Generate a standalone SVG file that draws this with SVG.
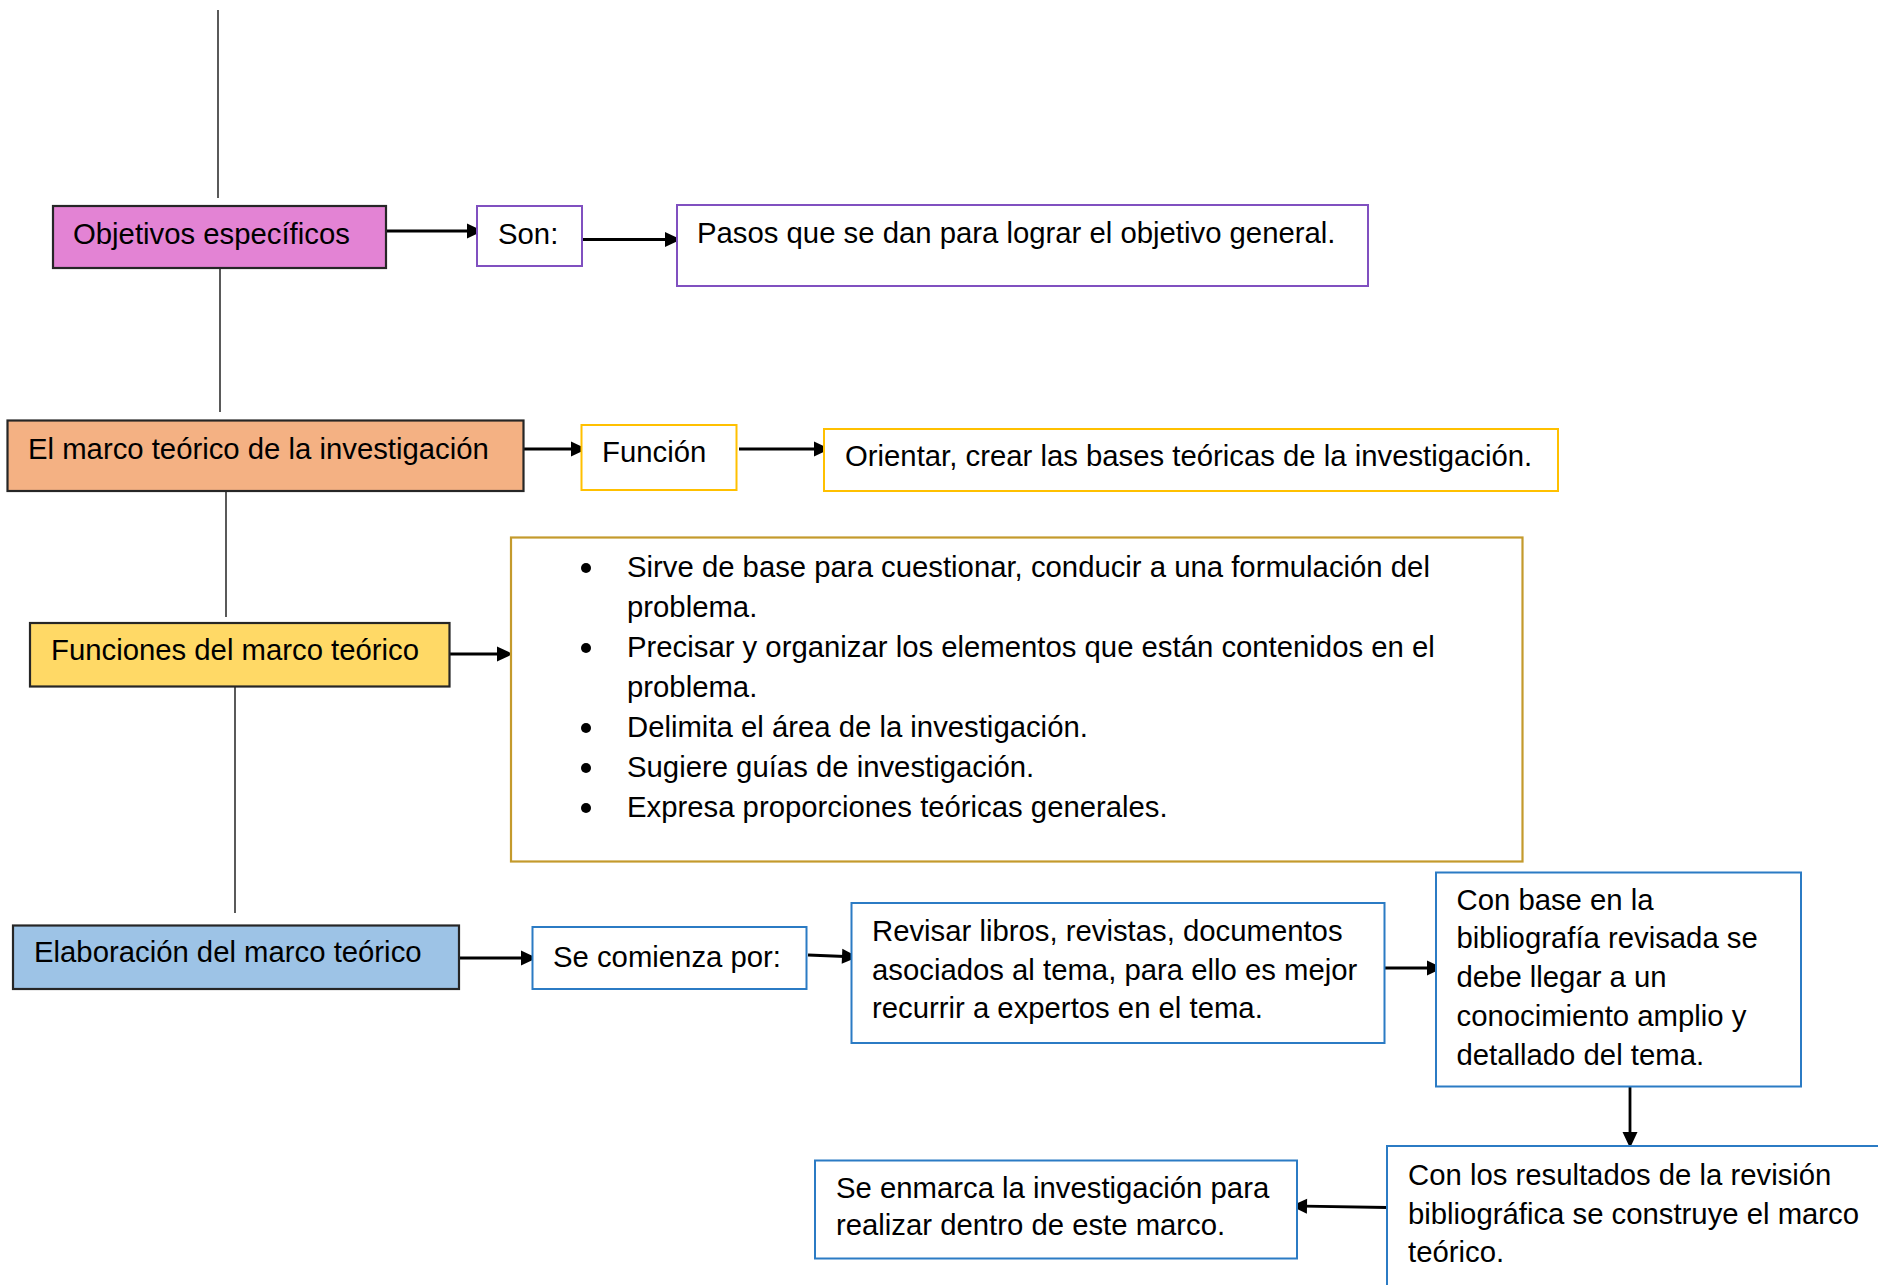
<svg xmlns="http://www.w3.org/2000/svg" xmlns:xlink="http://www.w3.org/1999/xlink" width="1878" height="1285" viewBox="0 0 1878 1285">
<defs>
<style>
text{font-family:"Liberation Sans",Arial,sans-serif;font-size:29.3px;fill:#000}
.dark{stroke:#262626;stroke-width:2.2}
.purple{fill:#fff;stroke:#8050C0;stroke-width:2}
.gold{fill:#fff;stroke:#FFC000;stroke-width:2}
.ochre{fill:#fff;stroke:#C49A2C;stroke-width:2.2}
.blue{fill:#fff;stroke:#2B7BC4;stroke-width:2}
.arrow{stroke:#000;stroke-width:2.8;fill:none}
.plain{stroke:#000;stroke-width:1.3;fill:none}
</style>
<path id="head" d="M0,0 L-16,-7.5 L-16,7.5 z" fill="#000"/>
</defs>
<rect width="1878" height="1285" fill="#fff"/>

<g id="connectors">
<line class="plain" x1="218" y1="10" x2="218" y2="198"/>
<line class="plain" x1="220" y1="268" x2="220" y2="412"/>
<line class="plain" x1="226" y1="491" x2="226" y2="617"/>
<line class="plain" x1="235" y1="687" x2="235" y2="913"/>
<line class="arrow" x1="386" y1="231" x2="470" y2="231"/>
<use href="#head" xlink:href="#head" transform="translate(483,231)"/>
<line class="arrow" x1="582" y1="239.5" x2="668" y2="239.5"/>
<use href="#head" xlink:href="#head" transform="translate(681,239.5)"/>
<line class="arrow" x1="523" y1="449" x2="574" y2="449"/>
<use href="#head" xlink:href="#head" transform="translate(587,449)"/>
<line class="arrow" x1="739" y1="449" x2="817" y2="449"/>
<use href="#head" xlink:href="#head" transform="translate(830,449)"/>
<line class="arrow" x1="449" y1="654" x2="500" y2="654"/>
<use href="#head" xlink:href="#head" transform="translate(513,654)"/>
<line class="arrow" x1="459" y1="958" x2="524" y2="958"/>
<use href="#head" xlink:href="#head" transform="translate(537,958)"/>
<line class="arrow" x1="808" y1="955" x2="845" y2="956.5"/>
<use href="#head" xlink:href="#head" transform="translate(858,957) rotate(2.3)"/>
<line class="arrow" x1="1384" y1="968" x2="1430" y2="968"/>
<use href="#head" xlink:href="#head" transform="translate(1443,968)"/>
<line class="arrow" x1="1630" y1="1087" x2="1630" y2="1135"/>
<use href="#head" xlink:href="#head" transform="translate(1630,1148) rotate(90)"/>
<line class="arrow" x1="1387" y1="1207.5" x2="1304" y2="1206.2"/>
<use href="#head" xlink:href="#head" transform="translate(1291,1206) rotate(180.9)"/>
</g>

<g id="objetivos">
<rect class="dark" x="53" y="206" width="333" height="62" fill="#E383D4"/>
<text x="73" y="244">Objetivos específicos</text>
</g>
<g id="son">
<rect class="purple" x="477" y="206" width="105" height="60"/>
<text x="498" y="244">Son:</text>
</g>
<g id="pasos">
<rect class="purple" x="677" y="205" width="691" height="81"/>
<text x="697" y="243">Pasos que se dan para lograr el objetivo general.</text>
</g>

<g id="marco">
<rect class="dark" x="7.5" y="420.5" width="516" height="70.5" fill="#F4B183"/>
<text x="28" y="459">El marco teórico de la investigación</text>
</g>
<g id="funcion">
<rect class="gold" x="581.5" y="425" width="155" height="65"/>
<text x="602" y="462">Función</text>
</g>
<g id="orientar">
<rect class="gold" x="824" y="429" width="734" height="62"/>
<text x="845" y="466">Orientar, crear las bases teóricas de la investigación.</text>
</g>

<g id="funciones">
<rect class="dark" x="30" y="623" width="419.5" height="63.5" fill="#FFD966"/>
<text x="51" y="660">Funciones del marco teórico</text>
</g>
<g id="lista">
<rect class="ochre" x="511" y="537.5" width="1011.5" height="324"/>
<circle cx="586" cy="568" r="5"/>
<circle cx="586" cy="648" r="5"/>
<circle cx="586" cy="728" r="5"/>
<circle cx="586" cy="768" r="5"/>
<circle cx="586" cy="808" r="5"/>
<text x="627" y="577">Sirve de base para cuestionar, conducir a una formulación del</text>
<text x="627" y="617">problema.</text>
<text x="627" y="657">Precisar y organizar los elementos que están contenidos en el</text>
<text x="627" y="697">problema.</text>
<text x="627" y="737">Delimita el área de la investigación.</text>
<text x="627" y="777">Sugiere guías de investigación.</text>
<text x="627" y="817">Expresa proporciones teóricas generales.</text>
</g>

<g id="elaboracion">
<rect class="dark" x="13" y="925.5" width="446" height="63.5" fill="#9DC3E6"/>
<text x="34" y="962">Elaboración del marco teórico</text>
</g>
<g id="comienza">
<rect class="blue" x="532.5" y="927" width="274" height="62"/>
<text x="553" y="967">Se comienza por:</text>
</g>
<g id="revisar">
<rect class="blue" x="851.5" y="903" width="533" height="140"/>
<text x="872" y="941">Revisar libros, revistas, documentos</text>
<text x="872" y="979.5">asociados al tema, para ello es mejor</text>
<text x="872" y="1018">recurrir a expertos en el tema.</text>
</g>
<g id="conbase">
<rect class="blue" x="1436" y="872.5" width="365" height="214"/>
<text x="1456.5" y="909.5">Con base en la</text>
<text x="1456.5" y="948">bibliografía revisada se</text>
<text x="1456.5" y="987">debe llegar a un</text>
<text x="1456.5" y="1026">conocimiento amplio y</text>
<text x="1456.5" y="1065">detallado del tema.</text>
</g>
<g id="resultados">
<rect class="blue" x="1387" y="1146" width="520" height="160"/>
<text x="1408" y="1185">Con los resultados de la revisión</text>
<text x="1408" y="1224">bibliográfica se construye el marco</text>
<text x="1408" y="1262">teórico.</text>
</g>
<g id="enmarca">
<rect class="blue" x="815" y="1160.5" width="482" height="98"/>
<text x="836" y="1197.5">Se enmarca la investigación para</text>
<text x="836" y="1235">realizar dentro de este marco.</text>
</g>
</svg>
